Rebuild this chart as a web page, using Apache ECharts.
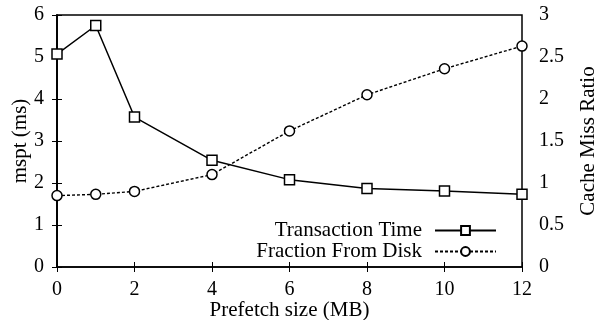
<!DOCTYPE html>
<html>
<head>
<meta charset="utf-8">
<script src="https://cdn.jsdelivr.net/npm/echarts@6/dist/echarts.min.js"></script>
<style>html,body{margin:0;padding:0;background:#fff}#c{width:601px;height:320px}</style>
</head>
<body>
<div id="c"></div>
<script>
const prefetchSizes = [0, 1, 2, 4, 6, 8, 10, 12];
const transactionTime = [5.07, 5.75, 3.57, 2.54, 2.08, 1.87, 1.81, 1.73];
const fractionFromDisk = [0.85, 0.865, 0.90, 1.10, 1.62, 2.05, 2.36, 2.63];
const xTicks = [0, 2, 4, 6, 8, 10, 12];
const leftTicks = [0, 1, 2, 3, 4, 5, 6];
const rightTicks = [0, 0.5, 1, 1.5, 2, 2.5, 3];

const font = 'Liberation Serif';
const chart = echarts.init(document.getElementById('c'), null, {renderer: 'canvas'});
const pair = (xs, ys) => xs.map((x, i) => [x, ys[i]]);
const lbl = {fontFamily: font, fontSize: 20, color: '#000'};
const nameLbl = {fontFamily: font, fontSize: 21, color: '#000'};

chart.setOption({
  animation: false,
  backgroundColor: '#fff',
  grid: {left: 57, right: 79, top: 15, bottom: 53, outerBoundsMode: 'none', containLabel: false,
         show: true, borderColor: '#000', borderWidth: 1.5, backgroundColor: 'transparent'},
  legend: {
    orient: 'vertical', right: 99, top: 215, align: 'right', itemGap: 0,
    itemWidth: 61, itemHeight: 11,
    textStyle: {fontFamily: font, fontSize: 21, lineHeight: 20, color: '#000', padding: [0, 8, 0, 0]},
    data: ['Transaction Time', 'Fraction From Disk']
  },
  xAxis: [{
    type: 'value', min: xTicks[0], max: xTicks[xTicks.length - 1], interval: 2,
    name: 'Prefetch size (MB)', nameLocation: 'middle', nameGap: 33, nameMoveOverlap: false,
    nameTextStyle: nameLbl,
    axisLine: {show: true, lineStyle: {color: '#000', width: 1.5}},
    axisTick: {inside: true, length: 5, lineStyle: {color: '#000'}},
    axisLabel: Object.assign({margin: 13}, lbl),
    splitLine: {show: false}
  }, {
    type: 'value', position: 'top', min: xTicks[0], max: xTicks[xTicks.length - 1], interval: 2,
    axisLine: {show: false}, axisLabel: {show: false},
    axisTick: {inside: true, length: 5, lineStyle: {color: '#000'}},
    splitLine: {show: false}
  }],
  yAxis: [{
    type: 'value', min: leftTicks[0], max: leftTicks[leftTicks.length - 1], interval: 1,
    name: 'mspt (ms)', nameLocation: 'middle', nameGap: 26, nameRotate: 90, nameMoveOverlap: false,
    nameTextStyle: nameLbl,
    axisLine: {show: true, lineStyle: {color: '#000', width: 1.5}},
    axisTick: {show: true, inside: true, length: 5, lineStyle: {color: '#000'}},
    axisLabel: Object.assign({margin: 13}, lbl),
    splitLine: {show: false}
  }, {
    type: 'value', position: 'right', min: rightTicks[0], max: rightTicks[rightTicks.length - 1], interval: 0.5,
    name: 'Cache Miss Ratio', nameLocation: 'middle', nameGap: 56, nameRotate: 90, nameMoveOverlap: false,
    nameTextStyle: nameLbl,
    axisLine: {show: true, lineStyle: {color: '#000', width: 1.5}},
    axisTick: {show: true, inside: true, length: 5, lineStyle: {color: '#000'}},
    axisLabel: Object.assign({margin: 17}, lbl),
    splitLine: {show: false}
  }],
  series: [{
    name: 'Transaction Time', type: 'line', xAxisIndex: 0, yAxisIndex: 0,
    data: pair(prefetchSizes, transactionTime),
    symbol: 'rect', symbolSize: 10, showAllSymbol: true,
    itemStyle: {color: '#fff', borderColor: '#000', borderWidth: 1.5},
    lineStyle: {color: '#000', width: 1.5, type: 'solid'},
    z: 3
  }, {
    name: 'Fraction From Disk', type: 'line', xAxisIndex: 0, yAxisIndex: 1,
    data: pair(prefetchSizes, fractionFromDisk),
    symbol: 'circle', symbolSize: 10, showAllSymbol: true,
    itemStyle: {color: '#fff', borderColor: '#000', borderWidth: 1.5},
    lineStyle: {color: '#000', width: 1.4, type: [3, 2]},
    z: 2
  }]
});
</script>
</body>
</html>
